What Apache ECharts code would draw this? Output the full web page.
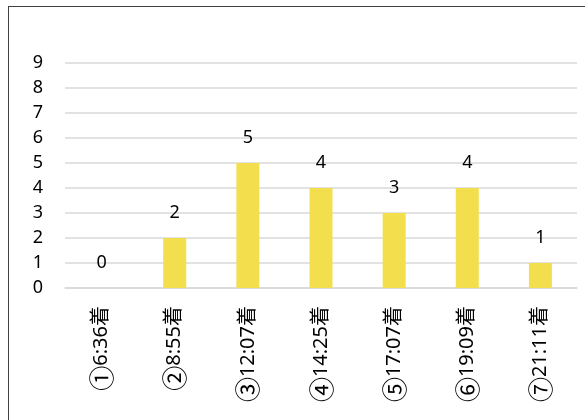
<!DOCTYPE html>
<html lang="ja">
<head>
    <meta charset="UTF-8">
    <title>chart</title>
    <style>
        html, body { margin: 0; padding: 0; background: #fff; }
        #frame {
            position: absolute; left: 8px; top: 6px;
            width: 600px; height: 430px;
            border: 1.5px solid #404040;
            box-sizing: border-box;
        }
        #main { position: absolute; left: 0; top: 0; width: 585px; height: 420px; }
    </style>
</head>
<body>
    <div id="frame"></div>
    <div id="main"></div>
    <script src="https://cdn.jsdelivr.net/npm/echarts@6/dist/echarts.min.js"></script>
    <script type="text/javascript">
        var categories = ['①6:36着', '②8:55着', '③12:07着', '④14:25着', '⑤17:07着', '⑥19:09着', '⑦21:11着'];
        var values = [0, 2, 5, 4, 3, 4, 1];
        var yTicks = [0, 1, 2, 3, 4, 5, 6, 7, 8, 9];

        var chart = echarts.init(document.getElementById('main'));
        var font = '"Noto Sans", "Noto Sans CJK JP", sans-serif';
        var cjkFont = '"Noto Sans CJK JP", sans-serif';

        var option = {
            animation: false,
            grid: { left: 65, right: 8, top: 63, bottom: 132, containLabel: false },
            xAxis: {
                type: 'category',
                data: categories,
                axisLine: { show: true, lineStyle: { color: '#d9d9d9', width: 1.5 } },
                axisTick: { show: false },
                axisLabel: {
                    rotate: 90,
                    margin: 18,
                    color: '#000',
                    fontSize: 20,
                    fontFamily: font,
                    // circled number is drawn larger, like the original
                    formatter: function (v) {
                        return '{c|' + v.charAt(0) + '}{t|' + v.slice(1) + '}';
                    },
                    rich: {
                        c: { fontSize: 25, fontFamily: cjkFont, color: '#000' },
                        t: { fontSize: 20, fontFamily: font, color: '#000' }
                    }
                }
            },
            yAxis: {
                type: 'value',
                min: yTicks[0],
                max: yTicks[yTicks.length - 1],
                interval: 1,
                axisLine: { show: false },
                axisTick: { show: false },
                splitLine: { lineStyle: { color: '#d9d9d9', width: 1.5 } },
                axisLabel: {
                    margin: 22,
                    color: '#000',
                    fontSize: 18,
                    fontFamily: font
                }
            },
            series: [{
                type: 'bar',
                data: values,
                barWidth: 23,
                itemStyle: { color: '#f3df4d' },
                label: {
                    show: true,
                    position: 'top',
                    distance: 16,
                    color: '#000',
                    fontSize: 18,
                    fontFamily: font
                }
            }]
        };

        chart.setOption(option);
    </script>
</body>
</html>
